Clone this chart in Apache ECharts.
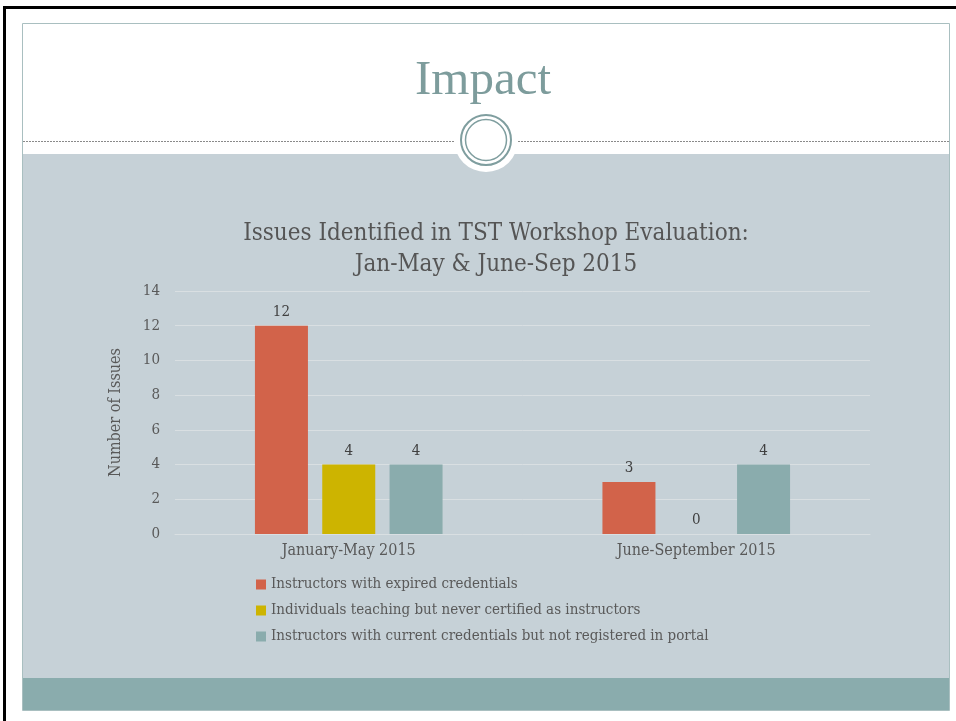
<!DOCTYPE html>
<html>
<head>
<meta charset="utf-8">
<script src="https://cdn.jsdelivr.net/npm/echarts@6/dist/echarts.min.js"></script>
<style>
  html, body { margin: 0; padding: 0; background: #ffffff; }
  #chart { width: 956px; height: 721px; }
</style>
</head>
<body>
<div id="chart"></div>
<script>
  // data
  var categories = ['January-May 2015', 'June-September 2015'];
  var seriesNames = [
    'Instructors with expired credentials',
    'Individuals teaching but never certified as instructors',
    'Instructors with current credentials but not registered in portal'
  ];
  var expired = [12, 3];
  var neverCertified = [4, 0];
  var notRegistered = [4, 4];
  var yTicks = [0, 2, 4, 6, 8, 10, 12, 14];

  var titleFont = '"Liberation Serif", serif';
  var font = '"DejaVu Serif Condensed", "DejaVu Serif", serif';
  var colors = ['#d2634a', '#cdb400', '#8aacad'];

  var myChart = echarts.init(document.getElementById('chart'));

  function bar(name, data, color) {
    return {
      name: name,
      type: 'bar',
      data: data,
      barWidth: 53,
      barGap: '27%',
      itemStyle: { color: color },
      label: {
        show: true,
        position: 'top',
        distance: 6,
        fontFamily: font,
        fontSize: 15,
        color: '#404040'
      }
    };
  }

  myChart.setOption({
    animation: false,
    color: colors,
    title: [{
      text: 'Impact',
      left: 478,
      textAlign: 'center',
      top: 52,
      textStyle: { fontFamily: titleFont, fontSize: 49, fontWeight: 'normal', color: '#7d9c9c' }
    }, {
      text: 'Issues Identified in TST Workshop Evaluation:\nJan-May & June-Sep 2015',
      left: 491,
      textAlign: 'center',
      top: 213,
      textStyle: { fontFamily: font, fontSize: 24, fontWeight: 'normal', color: '#555555', lineHeight: 31 }
    }],
    graphic: [
      // slide frame
      { type: 'rect', z: -10, shape: { x: 3, y: 6, width: 953, height: 3 }, style: { fill: '#000' } },
      { type: 'rect', z: -10, shape: { x: 3, y: 6, width: 3, height: 715 }, style: { fill: '#000' } },
      { type: 'rect', z: -10, shape: { x: 22.5, y: 23.5, width: 927, height: 687 }, style: { fill: '#fff', stroke: '#a9bfc0', lineWidth: 1 } },
      { type: 'rect', z: -9, shape: { x: 23, y: 154, width: 926, height: 524 }, style: { fill: '#c6d1d7' } },
      { type: 'rect', z: -9, shape: { x: 23, y: 678, width: 926, height: 32 }, style: { fill: '#8aacad' } },
      { type: 'line', z: -9, shape: { x1: 23, y1: 141.5, x2: 949, y2: 141.5 }, style: { stroke: '#8a8a8a', lineWidth: 1, lineDash: [2, 1] } },
      { type: 'circle', z: -8, shape: { cx: 486, cy: 140, r: 32 }, style: { fill: '#fff' } },
      { type: 'circle', z: -8, shape: { cx: 486, cy: 140, r: 25 }, style: { fill: 'none', stroke: '#7f9e9f', lineWidth: 2 } },
      { type: 'circle', z: -8, shape: { cx: 486, cy: 140, r: 20.5 }, style: { fill: 'none', stroke: '#7f9e9f', lineWidth: 1.5 } }
    ],
    legend: {
      orient: 'vertical',
      left: 251,
      top: 572,
      itemWidth: 10,
      itemHeight: 10,
      itemGap: 11,
      icon: 'rect',
      data: seriesNames,
      textStyle: { fontFamily: font, fontSize: 15, color: '#595959' }
    },
    grid: {
      left: 175,
      right: 86,
      top: 291,
      bottom: 187
    },
    xAxis: {
      type: 'category',
      data: categories,
      axisTick: { show: false },
      axisLine: { lineStyle: { color: '#d9dfe2', width: 1 } },
      axisLabel: { fontFamily: font, fontSize: 16, color: '#595959', margin: 9 }
    },
    yAxis: {
      type: 'value',
      min: yTicks[0],
      max: yTicks[yTicks.length - 1],
      interval: 2,
      name: 'Number of Issues',
      nameLocation: 'middle',
      nameGap: 51,
      nameTextStyle: { fontFamily: font, fontSize: 16, color: '#595959' },
      axisLine: { show: false },
      axisTick: { show: false },
      axisLabel: { fontFamily: font, fontSize: 15, color: '#595959', margin: 15 },
      splitLine: { lineStyle: { color: '#d9dfe2', width: 1 } }
    },
    series: [
      bar(seriesNames[0], expired, colors[0]),
      bar(seriesNames[1], neverCertified, colors[1]),
      bar(seriesNames[2], notRegistered, colors[2])
    ]
  });
</script>
</body>
</html>
